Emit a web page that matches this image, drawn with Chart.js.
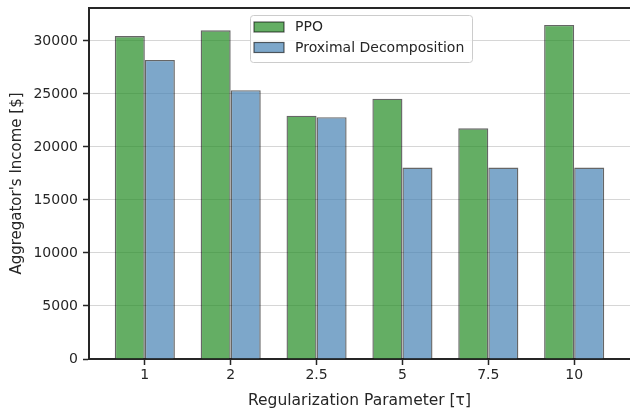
<!DOCTYPE html>
<html>
<head>
<meta charset="utf-8">
<script src="https://cdn.jsdelivr.net/npm/chart.js@4"></script>
<style>
  body { margin: 0; background: #fff; }
  canvas { display: block; }
</style>
</head>
<body>
<canvas id="incomeChart" width="630" height="413"></canvas>
<script>
const categories = ['1', '2', '2.5', '5', '7.5', '10'];
const ppoValues = [30450, 31000, 22950, 24550, 21750, 31500];
const proximalValues = [28200, 25350, 22800, 18050, 18050, 18050];
const yTicks = [0, 5000, 10000, 15000, 20000, 25000, 30000];

const FONT = "'DejaVu Sans', sans-serif";
const TEXT = '#262626';

// legend drawn inside the plot, stacked like matplotlib's
const boxLegend = {
    id: 'boxLegend',
    afterDraw(chart) {
        const ctx = chart.ctx;
        const x = 250, y = 15, w = 222, h = 47;
        ctx.save();
        ctx.fillStyle = 'rgba(255,255,255,0.8)';
        ctx.strokeStyle = '#cccccc';
        ctx.lineWidth = 1;
        ctx.beginPath();
        ctx.roundRect(x + 0.5, y + 0.5, w, h, 3);
        ctx.fill();
        ctx.stroke();
        ctx.font = '14px ' + FONT;
        ctx.textBaseline = 'middle';
        chart.data.datasets.forEach((ds, i) => {
            const py = 22 + i * 20.5;
            ctx.fillStyle = ds.backgroundColor;
            ctx.fillRect(254, py, 30, 10);
            ctx.strokeStyle = ds.borderColor;
            ctx.lineWidth = 1.2;
            ctx.strokeRect(254, py, 30, 10);
            ctx.fillStyle = TEXT;
            ctx.fillText(ds.label, 295, py + 5.5);
        });
        ctx.restore();
    }
};

// top spine
const topSpine = {
    id: 'topSpine',
    afterDatasetsDraw(chart) {
        const {ctx, chartArea} = chart;
        ctx.save();
        ctx.strokeStyle = TEXT;
        ctx.lineWidth = 2;
        ctx.beginPath();
        ctx.moveTo(chartArea.left - 1, chartArea.top);
        ctx.lineTo(chartArea.right, chartArea.top);
        ctx.stroke();
        ctx.restore();
    }
};

new Chart(document.getElementById('incomeChart').getContext('2d'), {
    type: 'bar',
    data: {
        datasets: [{
            label: 'PPO',
            data: ppoValues.map((v, i) => ({ x: i, y: v })),
            backgroundColor: 'rgba(34, 139, 34, 0.7)',
            borderColor: 'rgba(0, 0, 0, 0.6)',
            borderWidth: 1.4
        }, {
            label: 'Proximal Decomposition',
            data: proximalValues.map((v, i) => ({ x: i, y: v })),
            backgroundColor: 'rgba(70, 130, 180, 0.7)',
            borderColor: 'rgba(0, 0, 0, 0.6)',
            borderWidth: 1.4
        }]
    },
    options: {
        responsive: false,
        animation: false,
        layout: { padding: { top: 8, right: 0, left: 0, bottom: 0 } },
        categoryPercentage: 0.7,
        barPercentage: 1.0,
        plugins: {
            legend: { display: false },
            tooltip: { enabled: false }
        },
        scales: {
            x: {
                type: 'linear',
                offset: false,
                min: -0.65,
                max: 5.65,
                afterBuildTicks: axis => { axis.ticks = categories.map((c, i) => ({ value: i })); },
                afterFit: scale => { scale.height = 54; scale.paddingLeft = 0; scale.paddingRight = 0; },
                ticks: {
                    callback: (v) => categories[v],
                    color: TEXT,
                    font: { family: FONT, size: 14 },
                    padding: 2,
                    maxRotation: 0
                },
                grid: {
                    offset: false,
                    drawOnChartArea: false,
                    tickLength: 6,
                    tickColor: TEXT,
                    tickWidth: 1.5
                },
                border: { color: TEXT, width: 2 },
                title: {
                    display: true,
                    text: 'Regularization Parameter [τ]',
                    color: TEXT,
                    font: { family: FONT, size: 15.5 },
                    padding: { top: 0, bottom: 3 }
                }
            },
            y: {
                min: 0,
                max: 33100,
                afterBuildTicks: axis => { axis.ticks = yTicks.map(v => ({ value: v })); },
                afterFit: scale => { scale.width = 89; scale.paddingTop = 0; scale.paddingBottom = 0; },
                ticks: {
                    callback: (v) => String(v),
                    color: TEXT,
                    font: { family: FONT, size: 14 },
                    padding: 5
                },
                grid: {
                    color: '#d6d6d6',
                    lineWidth: 1,
                    tickLength: 6,
                    tickColor: TEXT,
                    tickWidth: 1.5
                },
                border: { color: TEXT, width: 2 },
                title: {
                    display: true,
                    text: "Aggregator's Income [$]",
                    color: TEXT,
                    font: { family: FONT, size: 15 },
                    padding: { top: 8, bottom: 0 }
                }
            }
        }
    },
    plugins: [boxLegend, topSpine]
});
</script>
</body>
</html>
